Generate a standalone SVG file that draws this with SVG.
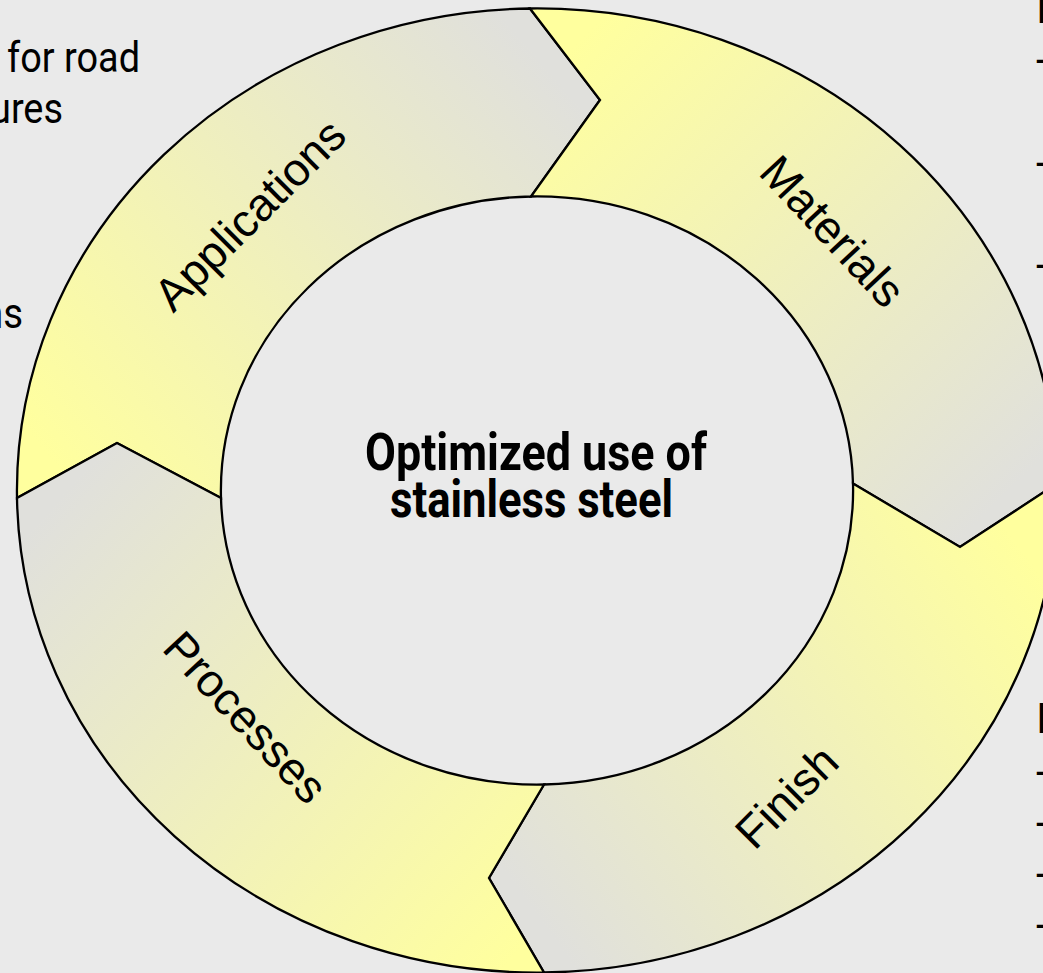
<svg xmlns="http://www.w3.org/2000/svg" width="1043" height="973" viewBox="0 0 1043 973">
<style>
.seg{stroke:#000;stroke-width:2.3;stroke-linejoin:miter}
.lbl{font-family:"Liberation Sans",Arial,sans-serif;font-size:46px;fill:#000}
.ctr{font-family:Roboto,"Liberation Sans",sans-serif;font-weight:bold;font-size:52px;fill:#000}
.side{font-family:Roboto,"Liberation Sans",sans-serif;font-size:42px;fill:#000}
</style>
<defs>
<linearGradient id="gApp" gradientUnits="userSpaceOnUse" x1="60" y1="470" x2="540" y2="60">
<stop offset="0" stop-color="#FFFF9E"/><stop offset="1" stop-color="#E0E0DC"/></linearGradient>
<linearGradient id="gMat" gradientUnits="userSpaceOnUse" x1="560" y1="60" x2="1000" y2="500">
<stop offset="0" stop-color="#FFFF9E"/><stop offset="1" stop-color="#E0E0DC"/></linearGradient>
<linearGradient id="gFin" gradientUnits="userSpaceOnUse" x1="1030" y1="560" x2="540" y2="920">
<stop offset="0" stop-color="#FFFF9E"/><stop offset="1" stop-color="#E0E0DC"/></linearGradient>
<linearGradient id="gPro" gradientUnits="userSpaceOnUse" x1="520" y1="950" x2="40" y2="520">
<stop offset="0" stop-color="#FFFF9E"/><stop offset="1" stop-color="#E0E0DC"/></linearGradient>
</defs>
<rect x="0" y="0" width="1043" height="973" fill="#EAEAEA"/>

<g id="side-text">
<text class="side" x="7" y="72" textLength="133" lengthAdjust="spacingAndGlyphs">for road</text>
<text class="side" x="-10" y="123" textLength="73" lengthAdjust="spacingAndGlyphs">ures</text>
<text class="side" x="-18" y="328" textLength="41" lengthAdjust="spacingAndGlyphs">ns</text>
<text class="side" x="1036" y="23">I</text>
<text class="side" x="1036" y="74">-</text>
<text class="side" x="1036" y="177">-</text>
<text class="side" x="1036" y="279">-</text>
<text class="side" x="1036" y="733">I</text>
<text class="side" x="1036" y="786">-</text>
<text class="side" x="1036" y="837">-</text>
<text class="side" x="1036" y="888">-</text>
<text class="side" x="1036" y="939">-</text>
</g>

<g id="node-applications">
<path class="seg" fill="url(#gApp)" d="M17,498 A520 482 0 0 1 530,8.5 L600,100 L531,196.5 A316 294 0 0 0 221,498 L117,443 Z"/>
<text class="lbl" text-anchor="middle" transform="translate(261,226) rotate(-45)">Applications</text>
</g>

<g id="node-materials">
<path class="seg" fill="url(#gMat)" d="M530,8.5 A520 482 0 0 1 1057,483.5 L960,547 L853,483.5 A316 294 0 0 0 531,196.5 L600,100 Z"/>
<text class="lbl" text-anchor="middle" transform="translate(821,242) rotate(47)">Materials</text>
</g>

<g id="node-finish">
<path class="seg" fill="url(#gFin)" d="M1057,483.5 A520 482 0 0 1 544,972.5 L489,878 L544,784.5 A316 294 0 0 0 853,483.5 L960,547 Z"/>
<text class="lbl" text-anchor="middle" transform="translate(798,808) rotate(-45)">Finish</text>
</g>

<g id="node-processes">
<path class="seg" fill="url(#gPro)" d="M544,972.5 A520 482 0 0 1 17,498 L117,443 L221,498 A316 294 0 0 0 544,784.5 L489,878 Z"/>
<text class="lbl" text-anchor="middle" transform="translate(234,728) rotate(47)">Processes</text>
</g>

<g id="node-center">
<text class="ctr" x="365" y="470" textLength="342" lengthAdjust="spacingAndGlyphs">Optimized use of</text>
<text class="ctr" x="390" y="517" textLength="283" lengthAdjust="spacingAndGlyphs">stainless steel</text>
</g>

<g id="connectors"/>
</svg>
